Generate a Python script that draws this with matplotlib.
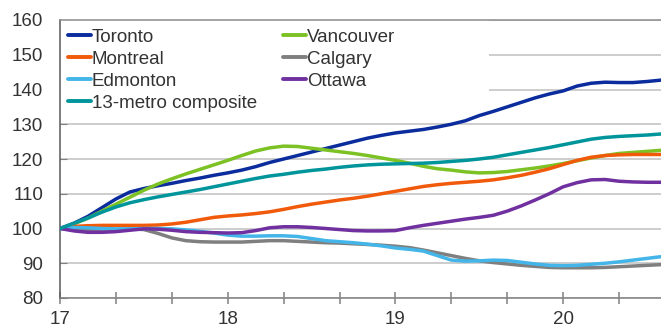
import matplotlib
matplotlib.use("Agg")
import matplotlib.pyplot as plt
from matplotlib.patches import Rectangle
from matplotlib.ticker import FixedLocator
import numpy as np

plt.rcParams["font.family"] = ["Liberation Sans", "DejaVu Sans"]

# monthly index values, Jan 2017 = 100
months = np.arange(44)
toronto = [100, 101.5, 103.5, 106, 108.5, 110.5, 111.5, 112.3, 113, 113.8,
           114.5, 115.3, 116, 116.8, 117.8, 119, 120, 121, 122, 123,
           124, 125, 126, 126.8, 127.5, 128, 128.5, 129.2, 130, 131,
           132.5, 133.7, 135, 136.3, 137.6, 138.7, 139.6, 141, 141.8, 142.1,
           142, 142, 142.3, 142.7]
vancouver = [100, 101.3, 103, 105, 107, 109, 111, 112.8, 114.3, 115.7,
             117, 118.3, 119.6, 121, 122.3, 123.2, 123.7, 123.6, 123.1, 122.6,
             122.1, 121.6, 121, 120.3, 119.6, 118.8, 117.9, 117.2, 116.8, 116.3,
             116, 116.1, 116.4, 116.9, 117.4, 118, 118.7, 119.5, 120.3, 121,
             121.6, 121.9, 122.2, 122.5]
montreal = [100, 100.6, 100.8, 100.9, 100.9, 100.9, 100.9, 101, 101.3, 101.8,
            102.5, 103.2, 103.6, 103.9, 104.3, 104.8, 105.5, 106.3, 107, 107.6,
            108.2, 108.7, 109.3, 110, 110.7, 111.4, 112.1, 112.6, 113, 113.3,
            113.6, 114, 114.6, 115.3, 116.2, 117.2, 118.4, 119.6, 120.5, 121,
            121.2, 121.3, 121.3, 121.3]
calgary = [100, 99.6, 99.4, 99.5, 99.7, 99.9, 99.7, 98.6, 97.3, 96.5,
           96.2, 96.1, 96.1, 96.1, 96.3, 96.5, 96.5, 96.3, 96.1, 95.9,
           95.8, 95.6, 95.4, 95.2, 94.9, 94.5, 93.8, 93, 92.2, 91.4,
           90.7, 90.2, 89.8, 89.4, 89.1, 88.8, 88.7, 88.7, 88.7, 88.8,
           89, 89.2, 89.4, 89.6]
edmonton = [100, 100.3, 100.2, 100, 99.9, 99.9, 100, 100, 99.9, 99.6,
            99.2, 98.7, 98.1, 97.8, 97.8, 97.9, 97.9, 97.7, 97.1, 96.5,
            96.2, 95.9, 95.5, 95, 94.4, 94, 93.5, 92.2, 90.9, 90.6,
            90.7, 90.9, 90.8, 90.3, 89.8, 89.4, 89.3, 89.4, 89.7, 90,
            90.4, 90.9, 91.4, 91.9]
ottawa = [100, 99.3, 98.9, 98.9, 99.1, 99.5, 99.9, 99.8, 99.5, 99.1,
          98.9, 98.8, 98.7, 98.8, 99.4, 100.2, 100.5, 100.5, 100.3, 100,
          99.7, 99.4, 99.3, 99.3, 99.4, 100.2, 100.9, 101.5, 102.1, 102.7,
          103.2, 103.8, 105, 106.5, 108.2, 110, 112, 113.2, 114, 114.1,
          113.6, 113.4, 113.3, 113.3]
composite = [100, 101.5, 103, 104.7, 106.2, 107.4, 108.3, 109.1, 109.8, 110.5,
             111.2, 112, 112.8, 113.6, 114.4, 115.1, 115.6, 116.2, 116.7, 117.1,
             117.6, 118, 118.3, 118.5, 118.6, 118.7, 118.8, 119, 119.3, 119.6,
             120, 120.5, 121.2, 121.9, 122.6, 123.3, 124.1, 124.9, 125.7, 126.2,
             126.5, 126.7, 126.9, 127.2]

series = [
    ("Toronto", toronto, "#0a2c9c"),
    ("Vancouver", vancouver, "#7cc225"),
    ("Montreal", montreal, "#f05a0a"),
    ("Calgary", calgary, "#7f7f7f"),
    ("Edmonton", edmonton, "#43b5e8"),
    ("Ottawa", ottawa, "#7030a0"),
    ("13-metro composite", composite, "#00959b"),
]
legend_order = ["Toronto", "Montreal", "Edmonton", "13-metro composite",
                "Vancouver", "Calgary", "Ottawa"]

x = 17 + months / 12
fig = plt.figure(figsize=(6.61, 3.31), dpi=100)
ax = fig.add_axes([60 / 661, 1 - 298 / 331, 601 / 661, 278 / 331])

lines = {}
for name, vals, col in series:
    (ln,) = ax.plot(x, vals, color=col, lw=2.5, label=name, zorder=3,
                    solid_capstyle="round")
    lines[name] = ln

ax.set_xlim(17, 17 + 43 / 12)
ax.set_ylim(80, 160)
ax.set_yticks(np.arange(80, 161, 10))
ax.set_xticks([17, 18, 19, 20])
ax.xaxis.set_minor_locator(FixedLocator([17 + k / 3 for k in range(11) if k % 3]))
ax.grid(axis="y", color="#c0c0c0", lw=1.1, zorder=0)
ax.set_axisbelow(True)

ax.spines["right"].set_visible(False)
ax.spines["top"].set_color("#8c8c8c")
ax.spines["left"].set_color("#595959")
ax.spines["bottom"].set_color("#808080")
for s in ["top", "left", "bottom"]:
    ax.spines[s].set_linewidth(1.1)

ax.tick_params(axis="y", direction="in", length=5, color="#808080",
               labelsize=13.5, labelcolor="#333333", pad=12)
ax.tick_params(axis="x", which="both", direction="inout", length=9,
               color="#808080", width=1.1)
ax.tick_params(axis="x", labelsize=13.5, labelcolor="#333333", pad=5)

# white area behind legend (hides gridlines like the original)
ax.add_patch(Rectangle((17, 134), 2.56, 26, facecolor="white",
                       edgecolor="none", zorder=1))

leg = ax.legend([lines[n] for n in legend_order], legend_order, ncol=2,
                loc="upper left", bbox_to_anchor=(0.0, 1.0), fontsize=13.5,
                handlelength=1.2, handletextpad=0.05, labelspacing=0.26,
                columnspacing=1.4, borderaxespad=0.3, borderpad=0.15,
                frameon=False)
for t in leg.get_texts():
    t.set_color("#333333")
for h in leg.legend_handles:
    h.set_linewidth(2.8)

fig.savefig("out.png", dpi=100)
